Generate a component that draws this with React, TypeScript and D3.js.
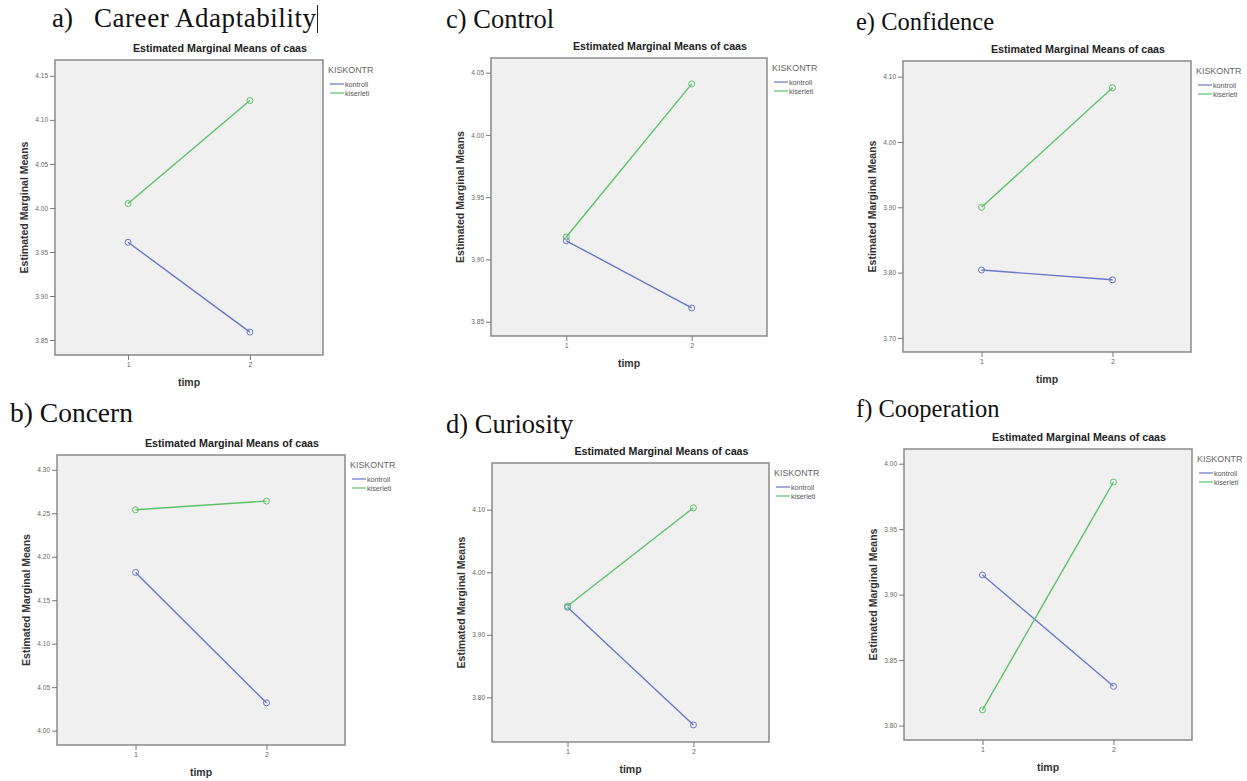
import { useEffect, useRef } from 'react';
import * as d3 from 'd3';

// panel order: a, b, c, d, e, f
const panelLetters = ['a)', 'b)', 'c)', 'd)', 'e)', 'f)'];
const panelNames = ['Career Adaptability', 'Concern', 'Control', 'Curiosity', 'Confidence', 'Cooperation'];
const timePoints = [1, 2];
const groups = ['kontroll', 'kiserleti'];

const kontrollMeans = [
  [3.961, 3.859],
  [4.182, 4.032],
  [3.915, 3.861],
  [3.944, 3.756],
  [3.804, 3.789],
  [3.915, 3.830]
];
const kiserletiMeans = [
  [4.005, 4.122],
  [4.254, 4.264],
  [3.918, 4.041],
  [3.946, 4.103],
  [3.900, 4.083],
  [3.812, 3.986]
];

const yTicks = [
  [3.85, 3.90, 3.95, 4.00, 4.05, 4.10, 4.15],
  [4.00, 4.05, 4.10, 4.15, 4.20, 4.25, 4.30],
  [3.85, 3.90, 3.95, 4.00, 4.05],
  [3.80, 3.90, 4.00, 4.10],
  [3.70, 3.80, 3.90, 4.00, 4.10],
  [3.80, 3.85, 3.90, 3.95, 4.00]
];
const yDomains = [
  [3.833, 4.168],
  [3.9835, 4.317],
  [3.8385, 4.0618],
  [3.7287, 4.1746],
  [3.6785, 4.124],
  [3.789, 4.0112]
];

// layout of each panel on the page
const layout = [
  { x0: 55, x1: 323, y0: 60, y1: 355, hx: 52, nameX: 94, nameW: 222, hy: 27, hs: 27, cursor: true },
  { x0: 57, x1: 345, y0: 455, y1: 745, hx: 10, nameX: 0, nameW: 0, hy: 422, hs: 27.5, cursor: false },
  { x0: 491, x1: 767, y0: 58, y1: 336, hx: 446, nameX: 0, nameW: 0, hy: 27.5, hs: 26.5, cursor: false },
  { x0: 492, x1: 769, y0: 463, y1: 742, hx: 446, nameX: 0, nameW: 0, hy: 432.5, hs: 26.5, cursor: false },
  { x0: 903, x1: 1191, y0: 61, y1: 352, hx: 856, nameX: 0, nameW: 0, hy: 30, hs: 24.5, cursor: false },
  { x0: 904, x1: 1192, y0: 449, y1: 740, hx: 856, nameX: 0, nameW: 0, hy: 417, hs: 24.5, cursor: false }
];

const groupColors = ['#6a76c6', '#5cc16c'];
const sans = '"Liberation Sans", Arial, sans-serif';
const serif = '"Liberation Serif", "Times New Roman", serif';

export default function App() {
  const svgRef = useRef<SVGSVGElement>(null);

  useEffect(() => {
    if (!svgRef.current) return;
    const svg = d3.select(svgRef.current);
    svg.selectAll('*').remove();

    svg.append('rect').attr('width', 1247).attr('height', 781).attr('fill', '#ffffff');

    layout.forEach((L, i) => {
      const g = svg.append('g');

      // heading
      if (L.nameX) {
        g.append('text').attr('x', L.hx).attr('y', L.hy)
          .style('font-family', serif).style('font-size', L.hs + 'px').attr('fill', '#111')
          .text(panelLetters[i]);
        g.append('text').attr('x', L.nameX).attr('y', L.hy)
          .attr('textLength', L.nameW).attr('lengthAdjust', 'spacing')
          .style('font-family', serif).style('font-size', L.hs + 'px').attr('fill', '#111')
          .text(panelNames[i]);
        if (L.cursor) {
          g.append('line')
            .attr('x1', L.nameX + L.nameW + 1.5).attr('x2', L.nameX + L.nameW + 1.5)
            .attr('y1', 5).attr('y2', 33)
            .attr('stroke', '#222').attr('stroke-width', 1);
        }
      } else {
        g.append('text').attr('x', L.hx).attr('y', L.hy)
          .style('font-family', serif).style('font-size', L.hs + 'px').attr('fill', '#111')
          .text(`${panelLetters[i]} ${panelNames[i]}`);
      }

      const x = d3.scaleLinear().domain([0.4, 2.6]).range([L.x0, L.x1]);
      const y = d3.scaleLinear().domain(yDomains[i]).range([L.y1, L.y0]);

      // plot area
      g.append('rect')
        .attr('x', L.x0).attr('y', L.y0)
        .attr('width', L.x1 - L.x0).attr('height', L.y1 - L.y0)
        .attr('fill', '#f0f0f0').attr('stroke', '#8a8a8a').attr('stroke-width', 1.5);

      // chart title
      g.append('text')
        .attr('x', (L.x0 + L.x1) / 2 + 31).attr('y', L.y0 - 8)
        .attr('text-anchor', 'middle')
        .style('font-family', sans).style('font-size', '10.7px').style('font-weight', 'bold')
        .attr('fill', '#222')
        .text('Estimated Marginal Means of caas');

      // y axis
      const yAxis = g.append('g').attr('transform', `translate(${L.x0},0)`)
        .call(d3.axisLeft(y).tickValues(yTicks[i]).tickFormat(d3.format('.2f')).tickSize(5).tickPadding(2));
      yAxis.select('.domain').remove();
      yAxis.selectAll('line').attr('stroke', '#777');
      yAxis.selectAll('text').attr('fill', '#666')
        .style('font-family', sans).style('font-size', '6.5px');

      // x axis
      const xAxis = g.append('g').attr('transform', `translate(0,${L.y1})`)
        .call(d3.axisBottom(x).tickValues(timePoints).tickFormat(d3.format('d')).tickSize(5).tickPadding(2));
      xAxis.select('.domain').remove();
      xAxis.selectAll('line').attr('stroke', '#777');
      xAxis.selectAll('text').attr('fill', '#666')
        .style('font-family', sans).style('font-size', '7px');

      // axis titles
      g.append('text')
        .attr('transform', `translate(${L.x0 - 31},${(L.y0 + L.y1) / 2}) rotate(-90)`)
        .attr('text-anchor', 'middle').attr('dy', '0.35em')
        .style('font-family', sans).style('font-size', '10.5px').style('font-weight', 'bold')
        .attr('fill', '#333')
        .text('Estimated Marginal Means');
      g.append('text')
        .attr('x', (L.x0 + L.x1) / 2).attr('y', L.y1 + 27).attr('dy', '0.35em')
        .attr('text-anchor', 'middle')
        .style('font-family', sans).style('font-size', '10.5px').style('font-weight', 'bold')
        .attr('fill', '#333')
        .text('timp');

      // series
      const series = [kontrollMeans[i], kiserletiMeans[i]];
      const line = d3.line<number>().x((_, j) => x(timePoints[j])).y(d => y(d));
      series.forEach((vals, s) => {
        g.append('path').datum(vals)
          .attr('d', line)
          .attr('fill', 'none').attr('stroke', groupColors[s]).attr('stroke-width', 1.4);
        g.selectAll(null).data(vals).join('circle')
          .attr('cx', (_, j) => x(timePoints[j])).attr('cy', d => y(d)).attr('r', 3)
          .attr('fill', 'none').attr('stroke', groupColors[s]).attr('stroke-width', 1);
      });

      // legend
      const lx = L.x1 + 5;
      g.append('text').attr('x', lx).attr('y', L.y0 + 10).attr('dy', '0.35em')
        .style('font-family', sans).style('font-size', '8.9px').attr('fill', '#666')
        .text('KISKONTR');
      groups.forEach((name, s) => {
        const ly = L.y0 + 24 + s * 9;
        g.append('line').attr('x1', lx + 2).attr('x2', lx + 16).attr('y1', ly).attr('y2', ly)
          .attr('stroke', groupColors[s]).attr('stroke-width', 1.2);
        g.append('text').attr('x', lx + 17).attr('y', ly).attr('dy', '0.35em')
          .style('font-family', sans).style('font-size', '7.2px').attr('fill', '#555')
          .text(name);
      });
    });
  }, []);

  return (
    <svg ref={svgRef} width={1247} height={781}
      style={{ position: 'absolute', left: 0, top: 0, display: 'block' }} />
  );
}
